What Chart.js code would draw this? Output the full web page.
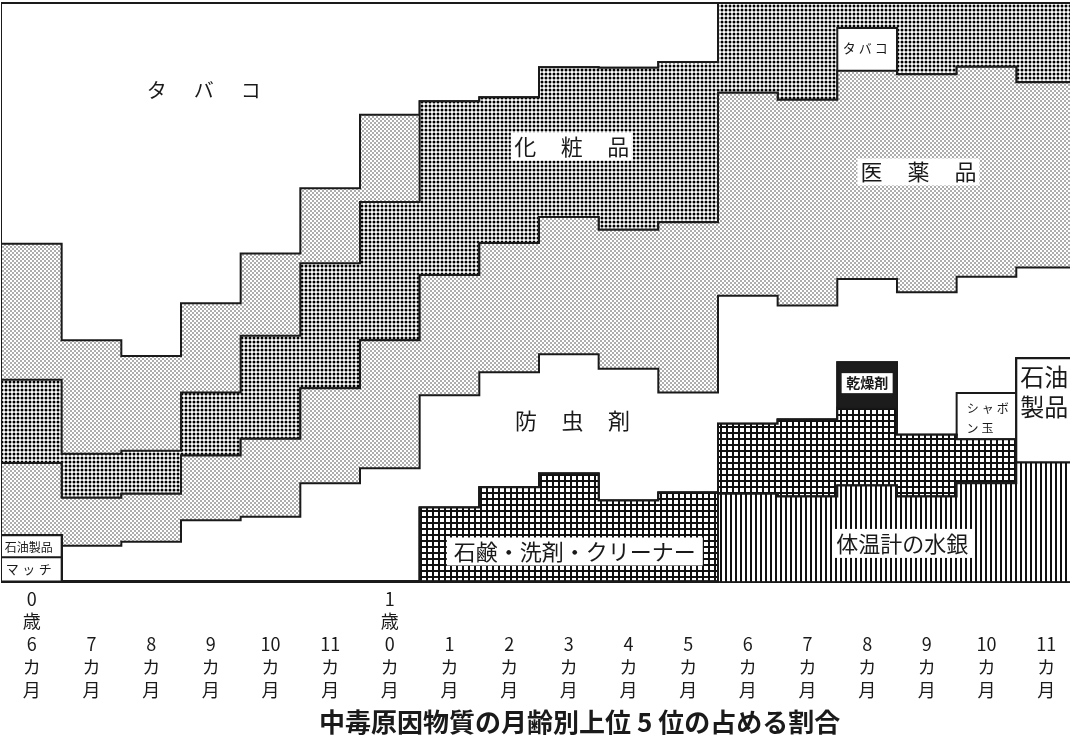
<!DOCTYPE html>
<html lang="ja">
<head>
<meta charset="utf-8">
<title>中毒原因物質の月齢別上位5位の占める割合</title>
<script src="https://cdn.jsdelivr.net/npm/chart.js@4.4.1/dist/chart.umd.min.js"></script>
<style>
html,body{margin:0;padding:0;background:#fff;}
#wrap{width:1070px;height:754px;}
canvas{display:block;}
</style>
</head>
<body>
<div id="wrap"><canvas id="c" width="1070" height="754"></canvas></div>
<script>
// ---- data (percent of each month-age group, stacked bottom -> top) ----
const months = ['0歳6カ月','7カ月','8カ月','9カ月','10カ月','11カ月','1歳0カ月','1カ月','2カ月','3カ月','4カ月','5カ月','6カ月','7カ月','8カ月','9カ月','10カ月','11カ月'];
const thermometerMercury = [0,0,0,0,0,0,0,0,0,0,0,0,15.2,14.7,16.6,14.7,17.0,20.6];
const matches            = [4.2,0,0,0,0,0,0,0,0,0,0,0,0,0,0,0,0,0];
const petroleum          = [3.8,0,0,0,0,0,0,0,0,0,0,0,0,0,0,0,0,18.0];
const soapDetergent      = [0,0,0,0,0,0,0,12.8,16.3,18.7,14.0,15.4,12.1,13.3,13.5,10.7,7.6,0];
const desiccant          = [0,0,0,0,0,0,0,0,0,0,0,0,0,0,7.8,0,0,0];
const soapBubbles        = [0,0,0,0,0,0,0,0,0,0,0,0,0,0,0,0,8.0,0];
const insecticide        = [0,6.2,6.9,10.6,11.2,17.0,19.6,19.4,19.9,20.6,22.8,17.3,22.1,19.7,14.4,24.6,20.1,15.7];
const medicine           = [12.5,8.3,8.3,11.2,13.5,16.4,22.1,20.8,22.3,23.7,24.0,29.4,35.1,35.6,36.0,37.7,36.3,32.0];
const cosmetics          = [14.4,7.6,7.4,10.9,17.8,21.6,23.9,30.0,25.2,25.9,28.0,27.7,15.5,16.7,4.3,12.3,11.0,13.7];
const unlabeledBand      = [23.5,19.6,16.4,15.4,14.2,13.0,15.1,0,0,0,0,0,0,0,0,0,0,0];
const tobacco            = [41.6,58.3,61.0,51.9,43.3,32.0,19.3,17.0,16.3,11.1,11.2,10.2,0,0,7.4,0,0,0];
// month indices where tobacco ranks below cosmetics in the stack
const tobaccoBelowCosmetics = [14];
const chartTitle = '中毒原因物質の月齢別上位 5 位の占める割合';

const FONT = '"Noto Sans CJK JP", "Noto Sans", sans-serif';
const INK = '#1a1a1a';
const canvas = document.getElementById('c');
const ctx = canvas.getContext('2d');

function tile(w, h, color, draw) {
  const c = document.createElement('canvas');
  c.width = w; c.height = h;
  const g = c.getContext('2d');
  g.fillStyle = '#fff'; g.fillRect(0, 0, w, h);
  g.fillStyle = color;
  draw(g);
  return ctx.createPattern(c, 'repeat');
}
const fineDots = tile(4, 4, '#444', g => {
  [[1,1],[3,3]].forEach(([x,y]) => { g.beginPath(); g.arc(x, y, 0.8, 0, Math.PI*2); g.fill(); });
});
const coarseDots = tile(4, 4, '#000', g => { g.beginPath(); g.arc(2, 2, 1.5, 0, Math.PI*2); g.fill(); });
const mesh = tile(6, 6, '#111', g => { g.fillRect(0, 0, 6, 2); g.fillRect(0, 0, 2, 6); });
const stripes = tile(5, 2, '#111', g => { g.fillRect(0, 0, 2, 2); });

const onlyAt = (arr, idx, keep) => arr.map((v, i) => (idx.includes(i) === keep ? v : 0));

const layers = [
  { label: '体温計の水銀', values: thermometerMercury, bg: stripes },
  { label: 'マッチ', values: matches, bg: '#fff' },
  { label: '石油製品', values: petroleum, bg: '#fff' },
  { label: '石鹸・洗剤・クリーナー', values: soapDetergent, bg: mesh },
  { label: '乾燥剤', values: desiccant, bg: '#1c1c1c' },
  { label: 'シャボン玉', values: soapBubbles, bg: '#fff' },
  { label: '防虫剤', values: insecticide, bg: '#fff' },
  { label: '医薬品', values: medicine, bg: fineDots },
  { label: 'タバコ', values: onlyAt(tobacco, tobaccoBelowCosmetics, true), bg: '#fff' },
  { label: '化粧品', values: cosmetics, bg: coarseDots },
  { label: '（無表示）', values: unlabeledBand, bg: fineDots },
  { label: 'タバコ', values: onlyAt(tobacco, tobaccoBelowCosmetics, false), bg: '#fff' }
];

const toSteps = vals => vals.map((v, i) => ({ x: i, y: v })).concat([{ x: vals.length, y: vals[vals.length - 1] }]);

const datasets = layers.map((l, i) => ({
  label: l.label,
  data: toSteps(l.values),
  stepped: true,
  fill: i === 0 ? 'origin' : '-1',
  backgroundColor: l.bg,
  borderColor: INK,
  borderWidth: 2,
  pointRadius: 0,
  pointHoverRadius: 0,
  clip: 6
}));

function verticalLabel(s) {
  const a = s.match(/^(\d+)歳(\d+)カ月$/);
  if (a) return [a[1], '歳', a[2], 'カ', '月'];
  const b = s.match(/^(\d+)カ月$/);
  return ['', '', b[1], 'カ', '月'];
}

// in-chart labels, positioned in data units (x: month column, y: percent)
const notes = [
  { text: 'タバコ', x: 3.38, y: 84.9, size: 20, gap: 47 },
  { text: '化粧品', x: 9.55, y: 75.2, size: 22, gap: 46.5, box: [122, 28] },
  { text: '医薬品', x: 15.36, y: 70.8, size: 22, gap: 47, box: [122, 27] },
  { text: '防虫剤', x: 9.56, y: 27.9, size: 22, gap: 46.5 },
  { text: '石鹸・洗剤・クリーナー', x: 9.6, y: 5.2, size: 22, box: [256, 28] },
  { text: '体温計の水銀', x: 15.09, y: 6.6, size: 22, box: [140, 29] },
  { text: '乾燥剤', x: 14.5, y: 34.3, size: 14, weight: 'bold', box: [51, 20] },
  { text: 'タバコ', x: 14.47, y: 92.2, size: 13, gap: 16 },
  { text: 'シャボ', x: 16.52, y: 29.9, size: 12, gap: 15 },
  { text: 'ン玉', x: 16.39, y: 26.5, size: 12, gap: 15 },
  { text: '石油', x: 17.47, y: 35.3, size: 24 },
  { text: '製品', x: 17.47, y: 30.2, size: 24 },
  { text: '石油製品', x: 0.45, y: 5.9, size: 12 },
  { text: 'マッチ', x: 0.45, y: 2.1, size: 13, gap: 16.5 }
];

function drawText(c, n, px, py) {
  c.font = `${n.weight || 'normal'} ${n.size}px ${FONT}`;
  c.fillStyle = INK;
  c.textAlign = 'center';
  c.textBaseline = 'middle';
  const spacing = n.gap ? n.gap - n.size : 0;
  if ('letterSpacing' in c) {
    c.letterSpacing = spacing + 'px';
    c.fillText(n.text, px + spacing / 2, py);
    c.letterSpacing = '0px';
  } else {
    c.fillText(n.text, px, py);
  }
}

const notePlugin = {
  id: 'notes',
  afterDatasetsDraw(chart) {
    const c = chart.ctx, sx = chart.scales.x, sy = chart.scales.y;
    c.save();
    notes.forEach(n => {
      const px = sx.getPixelForValue(n.x), py = sy.getPixelForValue(n.y);
      if (n.box) {
        c.fillStyle = '#fff';
        c.fillRect(px - n.box[0] / 2, py - n.box[1] / 2, n.box[0], n.box[1]);
      }
      drawText(c, n, px, py);
    });
    c.restore();
  },
  afterDraw(chart) {
    // caption under the axis
    const c = chart.ctx, sx = chart.scales.x;
    c.save();
    drawText(c, { text: chartTitle, size: 26, weight: 'bold' }, sx.getPixelForValue(9.68), chart.chartArea.bottom + 141);
    c.restore();
  }
};

const whiteBg = {
  id: 'whiteBg',
  beforeDraw(chart) {
    const c = chart.ctx;
    c.save(); c.fillStyle = '#fff'; c.fillRect(0, 0, chart.width, chart.height); c.restore();
  }
};

new Chart(ctx, {
  type: 'line',
  data: { datasets },
  options: {
    responsive: false,
    animation: false,
    events: [],
    layout: { padding: { top: 3, left: 2, right: 0, bottom: 47 } },
    scales: {
      x: {
        type: 'linear',
        min: 0,
        max: 17.9,
        grid: { display: false, drawTicks: false },
        border: { display: true, color: INK, width: 2 },
        afterBuildTicks: axis => { axis.ticks = months.map((_, i) => ({ value: i + 0.5 })); },
        ticks: {
          autoSkip: false,
          maxRotation: 0,
          minRotation: 0,
          padding: 6,
          color: INK,
          font: { family: FONT, size: 18, lineHeight: 1.26 },
          callback: (value, index) => verticalLabel(months[index])
        }
      },
      y: {
        stacked: true,
        min: 0,
        max: 100,
        grid: { display: false, drawTicks: false },
        border: { display: true, color: INK, width: 2 },
        ticks: { display: false }
      }
    },
    plugins: {
      legend: { display: false },
      tooltip: { enabled: false },
      title: { display: false }
    }
  },
  plugins: [whiteBg, notePlugin]
});
</script>
</body>
</html>
